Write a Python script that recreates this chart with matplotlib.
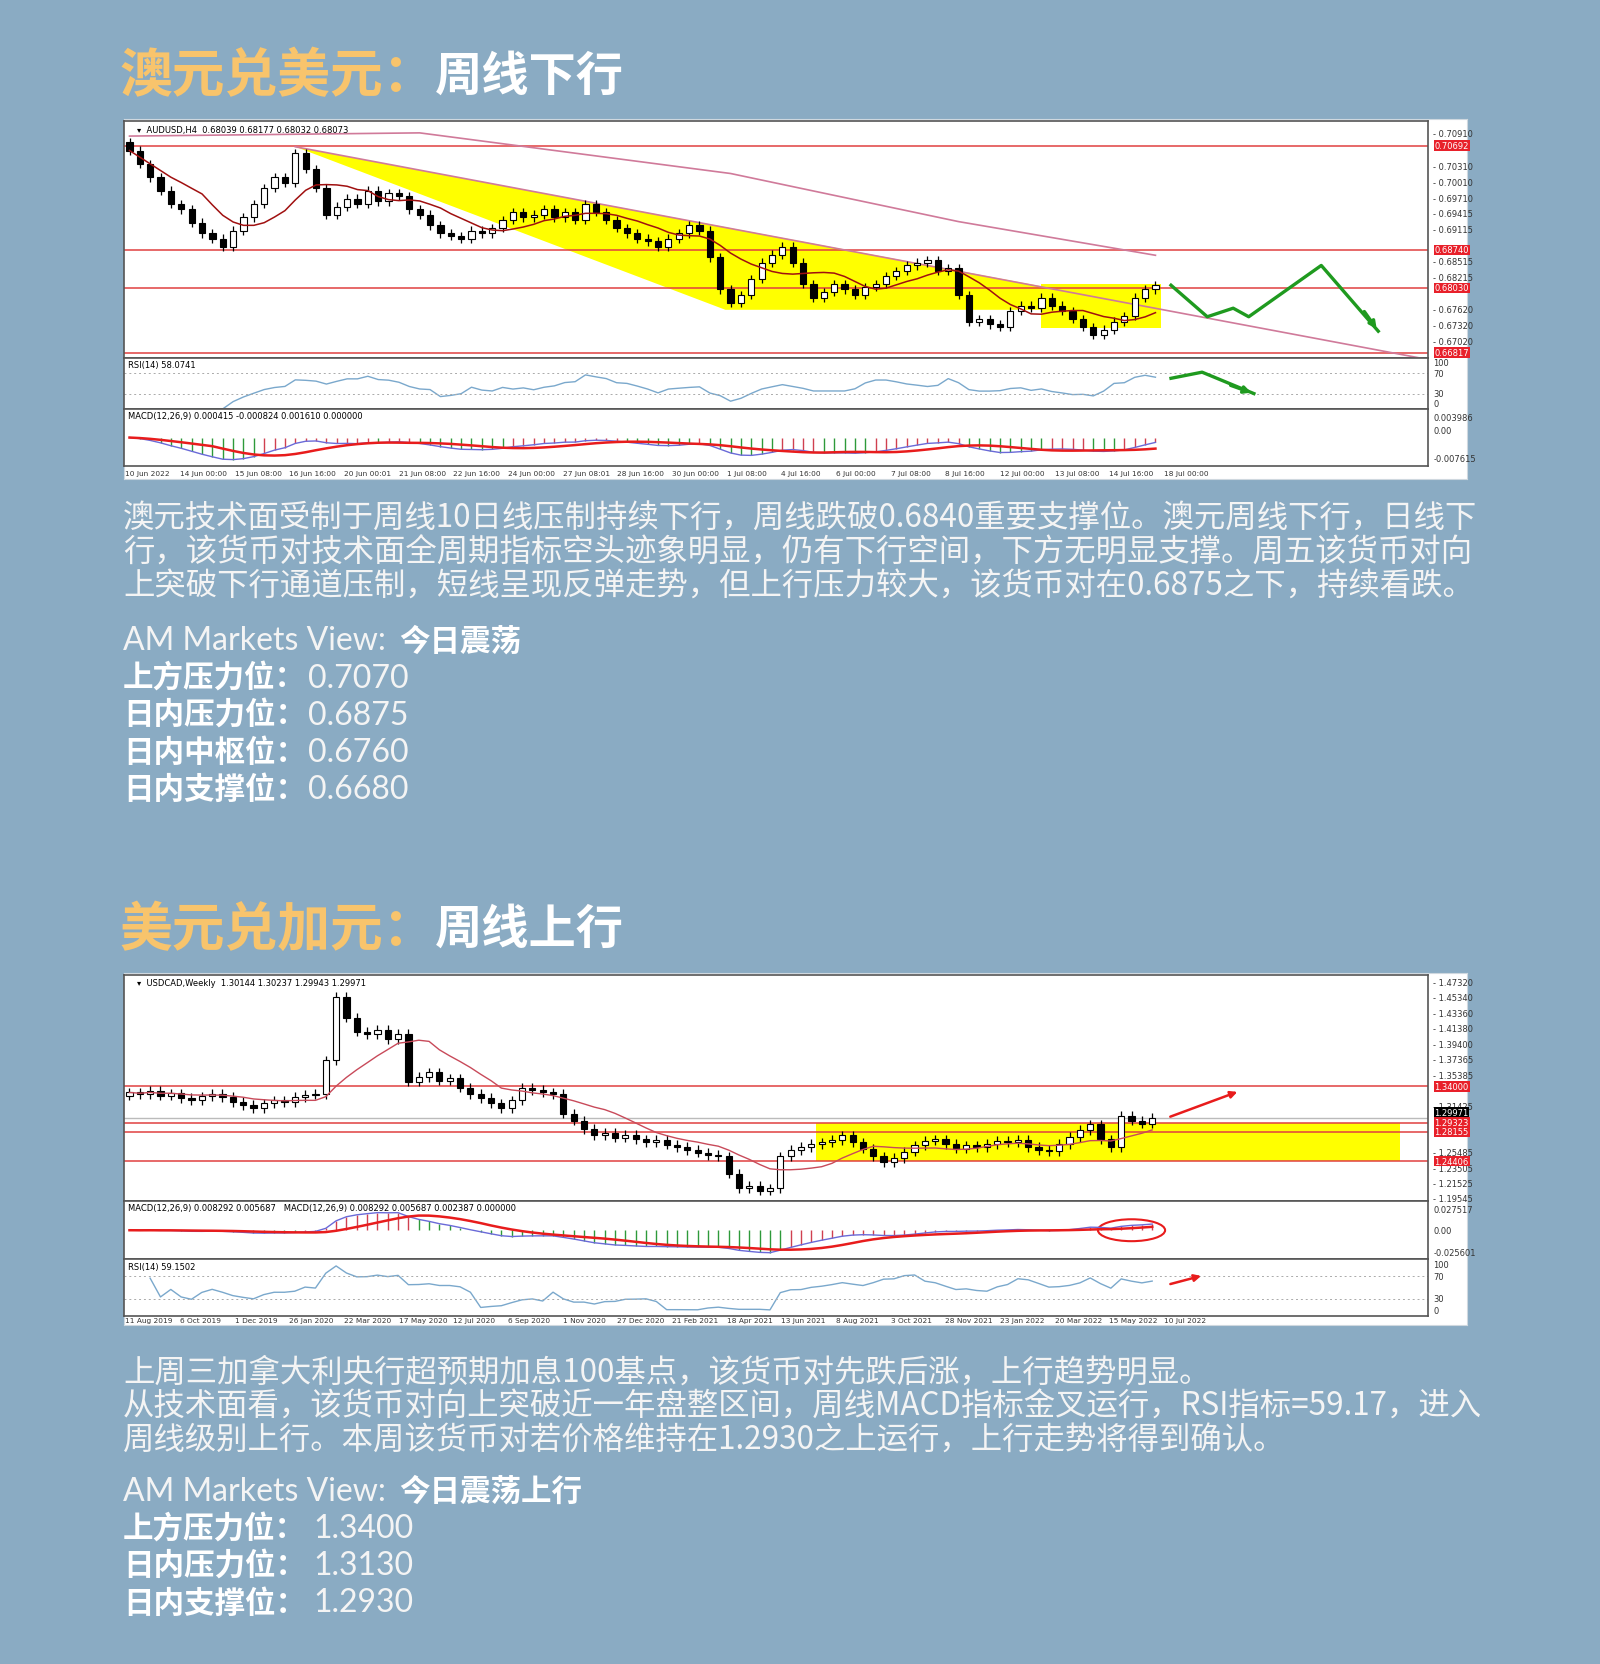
import numpy as np
import pandas as pd
import matplotlib
matplotlib.use("Agg")
import matplotlib.pyplot as plt
from matplotlib.patches import Polygon, Rectangle, Ellipse

plt.rcParams["font.family"] = ["Noto Sans CJK SC", "DejaVu Sans"]

# layout coordinates below are measured on a 1507 x 1568 view of the reference
W, H = 1507, 1568
BG = "#8aabc3"
ORANGE = "#f8c46c"
TXT = "#f4f4f4"

# ---------------- data: AUDUSD H4 ----------------
aud_close = [0.7060, 0.7035, 0.7010, 0.6985, 0.6960, 0.6950, 0.6925, 0.6905, 0.6895, 0.6880,
             0.6910, 0.6935, 0.6960, 0.6990, 0.7010, 0.7000, 0.7055,
             0.7025, 0.6990, 0.6940,
             0.6955, 0.6970, 0.6960, 0.6985, 0.6965, 0.6980, 0.6975,
             0.6950, 0.6940, 0.6920, 0.6905, 0.6900,
             0.6895, 0.6910, 0.6905,
             0.6915, 0.6930, 0.6945, 0.6935, 0.6940,
             0.6950, 0.6935, 0.6945, 0.6930, 0.6960, 0.6945,
             0.6930, 0.6915, 0.6905, 0.6895, 0.6890, 0.6880,
             0.6895, 0.6905, 0.6920, 0.6910,
             0.6860, 0.6800, 0.6775,
             0.6790, 0.6820, 0.6850, 0.6865, 0.6880,
             0.6850, 0.6810, 0.6785,
             0.6795, 0.6810, 0.6800, 0.6790, 0.6805, 0.6810,
             0.6825, 0.6835, 0.6845, 0.6850,
             0.6855, 0.6835, 0.6840,
             0.6790, 0.6740,
             0.6745, 0.6735, 0.6730,
             0.6760, 0.6770,
             0.6765, 0.6785, 0.6770,
             0.6760, 0.6745, 0.6730, 0.6715,
             0.6725, 0.6740, 0.6750,
             0.6785, 0.6800, 0.6808]
aud_open0 = 0.7075
aud_wick = 0.0008
aud_long_ma_idx = [0, 28, 58, 80, 99]
aud_long_ma = [0.7087, 0.7093, 0.7017, 0.6927, 0.6864]
aud_levels = [0.70692, 0.68740, 0.68030, 0.66817]
aud_ticks = [0.70910, 0.70610, 0.70310, 0.70010, 0.69710, 0.69415, 0.69115, 0.68815,
             0.68515, 0.68215, 0.67915, 0.67620, 0.67320, 0.67020, 0.66720]
aud_dates = ["10 Jun 2022", "14 Jun 00:00", "15 Jun 08:00", "16 Jun 16:00", "20 Jun 00:01",
             "21 Jun 08:00", "22 Jun 16:00", "24 Jun 00:00", "27 Jun 08:01", "28 Jun 16:00",
             "30 Jun 00:00", "1 Jul 08:00", "4 Jul 16:00", "6 Jul 00:00", "7 Jul 08:00",
             "8 Jul 16:00", "12 Jul 00:00", "13 Jul 08:00", "14 Jul 16:00", "18 Jul 00:00"]
aud_zigzag_x = [100.5, 104, 106.5, 108, 115, 120.5]
aud_zigzag_y = [0.6808, 0.6749, 0.6765, 0.6749, 0.6845, 0.6722]
aud_rsi_arrow_x = [100.5, 103.5, 108.5]
aud_rsi_arrow_y = [60, 72, 30]

# ---------------- data: USDCAD Weekly ----------------
cad_close = [1.332, 1.330, 1.334, 1.328, 1.331, 1.325, 1.322, 1.327, 1.330, 1.326, 1.320, 1.316, 1.312,
             1.318, 1.322, 1.320, 1.326, 1.329, 1.330,
             1.373, 1.455, 1.428, 1.410, 1.407, 1.412, 1.400, 1.407,
             1.346, 1.352, 1.358, 1.347, 1.350,
             1.338, 1.330, 1.325, 1.318, 1.312,
             1.322, 1.338, 1.335, 1.332, 1.330,
             1.305, 1.296, 1.285, 1.277,
             1.280, 1.274, 1.278, 1.272, 1.268, 1.271,
             1.265, 1.262, 1.258, 1.255, 1.252, 1.250,
             1.228, 1.209, 1.212, 1.206, 1.209,
             1.250, 1.258, 1.262, 1.266, 1.268, 1.271,
             1.277, 1.268, 1.260, 1.250, 1.243,
             1.248, 1.256, 1.264, 1.270,
             1.272, 1.266, 1.260, 1.264, 1.262,
             1.266, 1.270, 1.268, 1.271,
             1.262, 1.258, 1.257,
             1.266, 1.275, 1.284, 1.291,
             1.272, 1.262, 1.302,
             1.296, 1.292, 1.2997]
cad_open0 = 1.328
cad_wick = 0.006
cad_levels = [1.34000, 1.29323, 1.28155, 1.24406]
cad_ticks = [1.47320, 1.45340, 1.43360, 1.41380, 1.39400, 1.37365, 1.35385, 1.33405,
             1.31425, 1.27465, 1.25485, 1.23505, 1.21525, 1.19545]
cad_dates = ["11 Aug 2019", "6 Oct 2019", "1 Dec 2019", "26 Jan 2020", "22 Mar 2020",
             "17 May 2020", "12 Jul 2020", "6 Sep 2020", "1 Nov 2020", "27 Dec 2020",
             "21 Feb 2021", "18 Apr 2021", "13 Jun 2021", "8 Aug 2021", "3 Oct 2021",
             "28 Nov 2021", "23 Jan 2022", "20 Mar 2022", "15 May 2022", "10 Jul 2022"]
cad_box = (66.5, 123, 1.24406, 1.29323)
cad_arrow_x = [100.5, 107.5]
cad_arrow_y = [1.2997, 1.3340]
cad_rsi_arrow_x = [100.5, 104]
cad_rsi_arrow_y = [55, 72]

aud_text = ["澳元技术面受制于周线10日线压制持续下行，周线跌破0.6840重要支撑位。澳元周线下行，日线下",
            "行，该货币对技术面全周期指标空头迹象明显，仍有下行空间，下方无明显支撑。周五该货币对向",
            "上突破下行通道压制，短线呈现反弹走势，但上行压力较大，该货币对在0.6875之下，持续看跌。"]
aud_view = "今日震荡"
aud_keys = ["上方压力位：", "日内压力位：", "日内中枢位：", "日内支撑位："]
aud_vals = ["0.7070", "0.6875", "0.6760", "0.6680"]

cad_text = ["上周三加拿大利央行超预期加息100基点，该货币对先跌后涨，上行趋势明显。",
            "从技术面看，该货币对向上突破近一年盘整区间，周线MACD指标金叉运行，RSI指标=59.17，进入",
            "周线级别上行。本周该货币对若价格维持在1.2930之上运行，上行走势将得到确认。"]
cad_view = "今日震荡上行"
cad_keys = ["上方压力位：", "日内压力位：", "日内支撑位："]
cad_vals = ["1.3400", "1.3130", "1.2930"]


fig = plt.figure(figsize=(16, 16.65), dpi=100)
fig.patch.set_facecolor(BG)
SMALL = 6.0


def box(x0, y0, x1, y1):
    return [x0 / W, 1 - y1 / H, (x1 - x0) / W, (y1 - y0) / H]


def ohlc(closes, open0, wick):
    c = np.array(closes)
    o = np.concatenate([[open0], c[:-1]])
    hi = np.maximum(o, c) + wick
    lo = np.minimum(o, c) - wick
    return o, hi, lo, c


def candles(ax, closes, open0, wick):
    o, hi, lo, c = ohlc(closes, open0, wick)
    x = np.arange(len(c))
    ax.vlines(x, lo, hi, color="black", lw=0.9, zorder=4)
    up = c >= o
    ax.bar(x[up], (c - o)[up], bottom=o[up], width=0.6, color="white", edgecolor="black", lw=0.8, zorder=5)
    ax.bar(x[~up], (o - c)[~up], bottom=c[~up], width=0.6, color="black", edgecolor="black", lw=0.8, zorder=5)


def rsi(closes, n=14):
    s = pd.Series(closes)
    d = s.diff().fillna(0)
    g = d.clip(lower=0).rolling(n, min_periods=1).mean()
    l = (-d.clip(upper=0)).rolling(n, min_periods=1).mean()
    return (100 * g / (g + l + 1e-9)).values


def macd(closes):
    s = pd.Series(closes)
    m = s.ewm(span=12, adjust=False).mean() - s.ewm(span=26, adjust=False).mean()
    sig = m.rolling(9, min_periods=1).mean()
    return m.values, sig.values


def style_panel(ax, xlim):
    ax.set_xlim(*xlim)
    ax.set_xticks([])
    ax.set_yticks([])
    ax.set_facecolor("white")
    for s in ax.spines.values():
        s.set_color("#555555")
        s.set_linewidth(1.2)


def price_labels(ax, ticks, levels, fmt, gap):
    for t in ticks:
        if min(abs(t - lv) for lv in levels) < gap:
            continue  # hidden under the red level tag
        ax.text(1.004, t, "- " + fmt.format(t), transform=ax.get_yaxis_transform(), fontsize=SMALL,
                va="center", ha="left", color="#333333", family="DejaVu Sans")
    for lv in levels:
        ax.axhline(lv, color="#e04040", lw=1.1, zorder=2)
        ax.text(1.005, lv, fmt.format(lv), transform=ax.get_yaxis_transform(), fontsize=SMALL,
                va="center", ha="left", color="white", family="DejaVu Sans",
                bbox=dict(facecolor="#e8202a", edgecolor="none", pad=0.6), zorder=6)


def sub_labels(ax, labels):
    for (yv, t, va) in labels:
        ax.text(1.004, yv, t, transform=ax.transAxes, fontsize=SMALL, va=va, ha="left",
                color="#333333", family="DejaVu Sans")


def rsi_panel(ax, closes, xlim, title, start):
    style_panel(ax, xlim)
    r = rsi(closes)
    x = np.arange(len(r))
    ax.plot(x[start:], r[start:], color="#7aa8cc", lw=1)
    ax.set_ylim(0, 100)
    for lv in (70, 30):
        ax.axhline(lv, color="#aaaaaa", lw=0.7, ls=(0, (2, 3)))
    ax.text(0.003, 0.95, title, transform=ax.transAxes, fontsize=SMALL, va="top", family="DejaVu Sans")
    sub_labels(ax, [(0.99, "100", "top"), (0.7, "70", "center"), (0.3, "30", "center"), (0.01, "0", "bottom")])


def macd_panel(ax, closes, xlim, title, labels):
    style_panel(ax, xlim)
    m, sig = macd(closes)
    x = np.arange(len(m))
    hist_col = np.where(m > sig, "#d04050", "#2e9a3a")
    ax.vlines(x, 0, m, colors=hist_col, lw=1.0)
    ax.plot(x, m, color="#6a6ad8", lw=1)
    ax.plot(x, sig, color="#e81c1c", lw=1.8)
    lim = np.abs(m).max() * 1.3
    ax.set_ylim(-lim, lim)
    ax.text(0.003, 0.96, title, transform=ax.transAxes, fontsize=SMALL, va="top", family="DejaVu Sans")
    sub_labels(ax, labels)


def date_labels(y, dates):
    for i, d in enumerate(dates):
        fig.text((118 + i * 51.5) / W, 1 - y / H, d, fontsize=5.3, va="center", ha="left",
                 color="#333333", family="DejaVu Sans")


def title(y, a, b):
    fig.text(113 / W, 1 - y / H, a, fontsize=38, fontweight="bold", color=ORANGE, va="center")
    fig.text(410 / W, 1 - y / H, b, fontsize=34, fontweight="bold", color="white", va="center")


def body(y0, lines, yv, view, keys, vals, kx_val):
    for i, ln in enumerate(lines):
        fig.text(116 / W, 1 - (y0 + i * 32) / H, ln, fontsize=22.6, color=TXT, va="center")
    fig.text(116 / W, 1 - yv / H, "AM Markets View:", fontsize=23, color=TXT, va="center",
             family=["Lato", "DejaVu Sans"])
    fig.text(376 / W, 1 - yv / H, view, fontsize=22, color="white", fontweight="bold", va="center")
    for i, (k, v) in enumerate(zip(keys, vals)):
        yy = yv + 35 * (i + 1)
        fig.text(116 / W, 1 - yy / H, k, fontsize=22, color="white", fontweight="bold", va="center")
        fig.text(kx_val / W, 1 - yy / H, v, fontsize=23, color=TXT, va="center",
                 family=["Lato", "DejaVu Sans"])


# ---------------- chart 1 ----------------
title(72, "澳元兑美元：", "周线下行")
frame = fig.add_axes(box(117, 113, 1382, 452))
frame.set_xticks([]); frame.set_yticks([])
frame.set_facecolor("white")
for s in frame.spines.values():
    s.set_color("#cfd8df")

aud_xlim = (-0.51, 125.3)
ax1 = fig.add_axes(box(117, 115, 1345, 338))
style_panel(ax1, aud_xlim)
ax1.set_ylim(0.6672, 0.7115)
peak = 16
ax1.add_patch(Polygon([(peak, 0.7067), (57.5, 0.6762), (88, 0.6762), (88, 0.6806)],
                      closed=True, color="#ffff00", zorder=1, lw=0))
ax1.add_patch(Rectangle((88, 0.6728), 11.5, 0.0083, color="#ffff00", zorder=1, lw=0))
price_labels(ax1, aud_ticks, aud_levels, "{:.5f}", 0.0012)
ax1.plot(aud_long_ma_idx, aud_long_ma, color="#d07a9a", lw=1.2, zorder=3)
ax1.plot([peak, 125.3], [0.7067, 0.6669], color="#d07a9a", lw=1.2, zorder=3)
ma = pd.Series(aud_close).rolling(8, min_periods=1).mean()
ax1.plot(np.arange(len(ma)), ma, color="#a01010", lw=1.1, zorder=6)
candles(ax1, aud_close, aud_open0, aud_wick)
ax1.plot(aud_zigzag_x, aud_zigzag_y, color="#1f9a1f", lw=2.4, zorder=7)
ax1.annotate("", xy=(aud_zigzag_x[-1], aud_zigzag_y[-1]), xytext=(aud_zigzag_x[-2] + 4, aud_zigzag_y[-2] - 0.0082),
             arrowprops=dict(arrowstyle="-|>", color="#1f9a1f", lw=2.4), zorder=7)
ax1.text(0.01, 0.985, "▾  AUDUSD,H4  0.68039 0.68177 0.68032 0.68073", transform=ax1.transAxes,
         fontsize=SMALL, va="top", family="DejaVu Sans")

axr = fig.add_axes(box(117, 338, 1345, 386))
rsi_panel(axr, aud_close, aud_xlim, "RSI(14) 58.0741", 2)
axr.plot(aud_rsi_arrow_x, aud_rsi_arrow_y, color="#1f9a1f", lw=2.4)
axr.annotate("", xy=(aud_rsi_arrow_x[-1], aud_rsi_arrow_y[-1]), xytext=(106, 48),
             arrowprops=dict(arrowstyle="-|>", color="#1f9a1f", lw=2.4))

axm = fig.add_axes(box(117, 386, 1345, 440))
macd_panel(axm, aud_close, aud_xlim, "MACD(12,26,9) 0.000415 -0.000824 0.001610 0.000000",
           [(0.93, "0.003986", "top"), (0.62, "0.00", "center"), (0.05, "-0.007615", "bottom")])
date_labels(446, aud_dates)

body(488, aud_text, 604, aud_view, aud_keys, aud_vals, 290)

# ---------------- chart 2 ----------------
title(876, "美元兑加元：", "周线上行")
frame2 = fig.add_axes(box(117, 917, 1382, 1249))
frame2.set_xticks([]); frame2.set_yticks([])
frame2.set_facecolor("white")
for s in frame2.spines.values():
    s.set_color("#cfd8df")

cad_xlim = (-0.51, 125.7)
bx1 = fig.add_axes(box(117, 919, 1345, 1132))
style_panel(bx1, cad_xlim)
bx1.set_ylim(1.1928, 1.4828)
bx1.add_patch(Rectangle((cad_box[0], cad_box[2]), cad_box[1] - cad_box[0], cad_box[3] - cad_box[2],
                        color="#ffff00", zorder=1, lw=0))
price_labels(bx1, cad_ticks, cad_levels, "{:.5f}", 0.009)
bx1.axhline(1.29971, color="#bbbbbb", lw=1.0, zorder=2)
bx1.text(1.005, 1.30071, "1.29971", transform=bx1.get_yaxis_transform(), fontsize=SMALL, va="bottom",
         color="white", family="DejaVu Sans", bbox=dict(facecolor="black", edgecolor="none", pad=0.4), zorder=7)
ma2 = pd.Series(cad_close).rolling(10, min_periods=1).mean()
bx1.plot(np.arange(len(ma2)), ma2, color="#c84a5a", lw=1.0, zorder=6)
candles(bx1, cad_close, cad_open0, cad_wick)
bx1.annotate("", xy=(cad_arrow_x[1], cad_arrow_y[1]), xytext=(cad_arrow_x[0], cad_arrow_y[0]),
             arrowprops=dict(arrowstyle="-|>", color="#e81c1c", lw=1.8))
bx1.text(0.01, 0.985, "▾  USDCAD,Weekly  1.30144 1.30237 1.29943 1.29971", transform=bx1.transAxes,
         fontsize=SMALL, va="top", family="DejaVu Sans")

bxm = fig.add_axes(box(117, 1132, 1345, 1187))
macd_panel(bxm, cad_close, cad_xlim,
           "MACD(12,26,9) 0.008292 0.005687   MACD(12,26,9) 0.008292 0.005687 0.002387 0.000000",
           [(0.93, "0.027517", "top"), (0.5, "0.00", "center"), (0.05, "-0.025601", "bottom")])
bxm.add_patch(Ellipse((97, 0), 6.5, bxm.get_ylim()[1] * 0.75, fill=False, edgecolor="#e81c1c", lw=1.5))

bxr = fig.add_axes(box(117, 1187, 1345, 1240))
rsi_panel(bxr, cad_close, cad_xlim, "RSI(14) 59.1502", 2)
bxr.annotate("", xy=(cad_rsi_arrow_x[1], cad_rsi_arrow_y[1]), xytext=(cad_rsi_arrow_x[0], cad_rsi_arrow_y[0]),
             arrowprops=dict(arrowstyle="-|>", color="#e81c1c", lw=1.8))
date_labels(1244, cad_dates)

body(1293, cad_text, 1405, cad_view, cad_keys, cad_vals, 295)

fig.savefig("out.png", dpi=100, facecolor=BG)
